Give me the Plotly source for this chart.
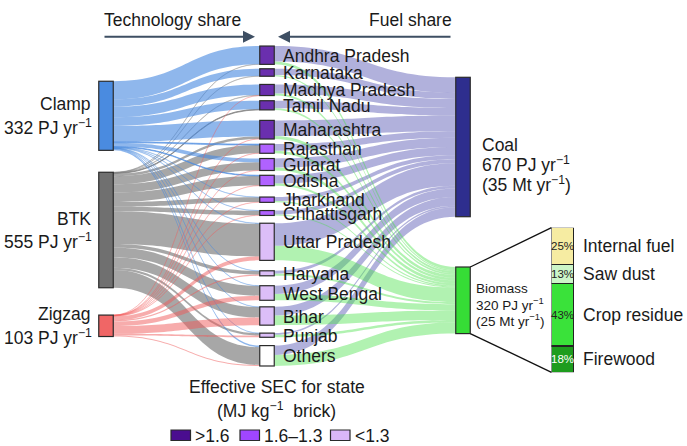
import plotly.graph_objects as go

W, H = 687, 446

# ---------------- data ----------------
technologies = ["Clamp", "BTK", "Zigzag"]
tech_totals = [332, 555, 103]
states = ["Andhra Pradesh", "Karnataka", "Madhya Pradesh", "Tamil Nadu", "Maharashtra",
          "Rajasthan", "Gujarat", "Odisha", "Jharkhand", "Chhattisgarh",
          "Uttar Pradesh", "Haryana", "West Bengal", "Bihar", "Punjab", "Others"]
sec_class = [0, 0, 0, 0, 0, 1, 1, 1, 1, 1, 2, 2, 2, 2, 2, 3]
clamp_to_state = [87, 35, 51, 41, 77, 4.5, 18, 3, 1, 1, 2, 1, 1, 1, 0.5, 8]
btk_to_state = [1, 1, 2, 3, 12, 39, 39, 46, 23, 21, 157.5, 17, 47, 50, 11.5, 85]
zigzag_to_state = [0, 0, 0.5, 0, 0.5, 0.5, 0.5, 1, 1.5, 1.5, 19, 6, 22, 37, 8, 5]
biomass_from_state = [14, 6, 10, 8, 14, 12, 14, 10, 6, 5, 70, 10, 30, 46, 12, 53]
fuels = ["Coal", "Biomass"]
fuel_totals = [670, 320]
fuel_mass = [35, 25]
biomass_types = ["Internal fuel", "Saw dust", "Crop residue", "Firewood"]
biomass_share = [25, 13, 43, 18]
legend_labels = [">1.6", "1.6–1.3", "<1.3"]

# ---------------- styles / layout positions (pixels) ----------------
FONT = "Liberation Sans"
TXT = "#1a1a1a"
tech_colors = ["#4a8be0", "#707070", "#f06666"]
tech_rgb = ["74,139,224", "125,125,125", "240,90,90"]
tech_alpha = [0.62, 0.68, 0.5]
sec_colors = ["#6a2fae", "#b062ff", "#dcbef8", "#ffffff"]
legend_colors = ["#4a0d8f", "#a046ff", "#dab6f8"]
fuel_colors = ["#2e2e8e", "#36dd36"]
fuel_link_colors = ["rgba(100,100,185,0.5)", "rgba(70,225,70,0.42)"]
bio_colors = ["#f6eca2", "#ccf5c8", "#3ae23a", "#1e9c1e"]
bio_text_colors = ["#222222", "#222222", "#222222", "#ffffff"]
HAIRLINE = 3  # flows thinner than this are drawn faintly

col_x_px = [106, 267, 463]
tech_y_px = [115.8, 230, 325.8]
state_y_px = [55.2, 72.5, 90, 105.3, 129.7, 148.7, 164.5, 180.5, 199.7, 213,
              241.8, 273.3, 293, 316, 335.2, 355.8]
fuel_y_px = [147, 300.3]
PAD = 16
THICK = 14.5

# ---------------- sankey ----------------
nT, nS = len(technologies), len(states)
idx_state = lambda i: nT + i
idx_fuel = lambda j: nT + nS + j

state_totals = [c + b + z for c, b, z in zip(clamp_to_state, btk_to_state, zigzag_to_state)]
coal_from_state = [t - b for t, b in zip(state_totals, biomass_from_state)]

src, tgt, val, lcol = [], [], [], []
tech_flows = [clamp_to_state, btk_to_state, zigzag_to_state]
for t in [1, 0, 2]:
    for i, v in enumerate(tech_flows[t]):
        if v > 0:
            a = tech_alpha[t] if v >= HAIRLINE else tech_alpha[t] * 0.45
            src.append(t); tgt.append(idx_state(i)); val.append(v)
            lcol.append(f"rgba({tech_rgb[t]},{a:.2f})")
for j, flows in enumerate([coal_from_state, biomass_from_state]):
    for i, v in enumerate(flows):
        if v > 0:
            src.append(idx_state(i)); tgt.append(idx_fuel(j)); val.append(v); lcol.append(fuel_link_colors[j])

node_colors = tech_colors + [sec_colors[c] for c in sec_class] + fuel_colors
node_x = [col_x_px[0] / W] * nT + [col_x_px[1] / W] * nS + [col_x_px[2] / W] * len(fuels)
node_y = [y / H for y in tech_y_px] + [y / H for y in state_y_px] + [y / H for y in fuel_y_px]

fig = go.Figure()
fig.add_trace(go.Sankey(
    arrangement="fixed",
    domain=dict(x=[0, 1], y=[0, 1]),
    node=dict(label=[""] * (nT + nS + len(fuels)), pad=PAD, thickness=THICK,
              color=node_colors, line=dict(color="#2a2a2a", width=1.2),
              x=node_x, y=node_y, hoverinfo="none"),
    link=dict(source=src, target=tgt, value=val, color=lcol, hoverinfo="none"),
    textfont=dict(size=1, color="rgba(0,0,0,0)"),
))

# stacked bar for biomass composition
bar_x0, bar_x1, bar_y0, bar_y1 = 551.5, 574, 227.7, 372.3
for k in reversed(range(len(biomass_types))):
    fig.add_trace(go.Bar(x=[0], y=[biomass_share[k]], width=1, marker=dict(color=bio_colors[k],
                  line=dict(color="#222222", width=1.2)), hoverinfo="skip", showlegend=False))

total_share = sum(biomass_share)
ann = []
cum = 0
for k in reversed(range(len(biomass_types))):
    mid = cum + biomass_share[k] / 2
    cum += biomass_share[k]
    ann.append(dict(text=f"{biomass_share[k]}%", x=0, y=mid, xref="x", yref="y", showarrow=False,
                    font=dict(family=FONT, size=11.5, color=bio_text_colors[k]), xanchor="center", yanchor="middle"))
    ann.append(dict(text=biomass_types[k], x=581 / W, y=mid, xref="paper", yref="y", showarrow=False,
                    font=dict(family=FONT, size=17.5, color=TXT), xanchor="left", yanchor="middle"))


def pa(text, x, y, xanchor="left", size=17.5, color=TXT):
    return dict(text=text, x=x / W, y=1 - y / H, xref="paper", yref="paper", showarrow=False,
                xanchor=xanchor, yanchor="middle", font=dict(family=FONT, size=size, color=color))


# technology labels
for t, name in enumerate(technologies):
    ann.append(pa(name, 93, tech_y_px[t] - 11.5, "right"))
    ann.append(pa(f"{tech_totals[t]} PJ yr<sup>−1</sup>", 94, tech_y_px[t] + 11.5, "right"))
# state labels
for i, name in enumerate(states):
    ann.append(pa(name, 281, state_y_px[i] + 0.5))
# coal label
ann.append(pa(fuels[0], 480, fuel_y_px[0] - 2.5))
ann.append(pa(f"{fuel_totals[0]} PJ yr<sup>−1</sup>", 480, fuel_y_px[0] + 17))
ann.append(pa(f"({fuel_mass[0]} Mt yr<sup>−1</sup>)", 480, fuel_y_px[0] + 36.5))
# biomass label
ann.append(pa(fuels[1], 474, fuel_y_px[1] - 12, size=13.5))
ann.append(pa(f"{fuel_totals[1]} PJ yr<sup>−1</sup>", 474, fuel_y_px[1] + 4, size=13.5))
ann.append(pa(f"({fuel_mass[1]} Mt yr<sup>−1</sup>)", 474, fuel_y_px[1] + 19.5, size=13.5))

# headers with arrows
ARW = "#3e4f63"
ann.append(pa("Technology share", 172, 20, "center"))
ann.append(pa("Fuel share", 410, 20, "center"))
ann.append(dict(x=255 / W, y=1 - 36.7 / H, xref="paper", yref="paper", ax=-152, ay=0, text="",
                showarrow=True, arrowhead=2, arrowsize=1.2, arrowwidth=2, arrowcolor=ARW))
ann.append(dict(x=278 / W, y=1 - 36.7 / H, xref="paper", yref="paper", ax=174, ay=0, text="",
                showarrow=True, arrowhead=2, arrowsize=1.2, arrowwidth=2, arrowcolor=ARW))

# SEC legend
ann.append(pa("Effective SEC for state", 277, 387, "center"))
ann.append(pa("(MJ kg<sup>−1</sup>  brick)", 276, 410, "center"))
shapes = []
leg_box_x = [171, 240, 330.5]
for k, lab in enumerate(legend_labels):
    shapes.append(dict(type="rect", xref="paper", yref="paper", x0=leg_box_x[k] / W, x1=(leg_box_x[k] + 19.5) / W,
                       y0=1 - 440.5 / H, y1=1 - 430 / H, fillcolor=legend_colors[k],
                       line=dict(color="#2a2a2a", width=1.2)))
    ann.append(pa(lab, leg_box_x[k] + 22, 436, "left"))

# connector lines between biomass node and breakdown bar
ky = (H - (nS - 1) * PAD) / sum(state_totals)
bio_half = fuel_totals[1] * ky / 2
node_right = col_x_px[2] + THICK / 2
for yn, yb in [(fuel_y_px[1] - bio_half, bar_y0), (fuel_y_px[1] + bio_half, bar_y1)]:
    shapes.append(dict(type="line", xref="paper", yref="paper", x0=node_right / W, y0=1 - yn / H,
                       x1=bar_x0 / W, y1=1 - yb / H, line=dict(color="#111111", width=1.3)))

fig.update_layout(
    width=W, height=H, margin=dict(l=0, r=0, t=0, b=0),
    paper_bgcolor="white", plot_bgcolor="rgba(0,0,0,0)",
    barmode="stack", showlegend=False,
    xaxis=dict(domain=[bar_x0 / W, bar_x1 / W], range=[-0.5, 0.5], visible=False, fixedrange=True),
    yaxis=dict(domain=[1 - bar_y1 / H, 1 - bar_y0 / H], range=[0, total_share], visible=False, fixedrange=True),
    annotations=ann, shapes=shapes,
    font=dict(family=FONT, color=TXT),
)

fig.write_html("out.html", config={"displayModeBar": False},
               post_script="document.body.style.margin='0px';document.body.style.overflow='hidden';")
